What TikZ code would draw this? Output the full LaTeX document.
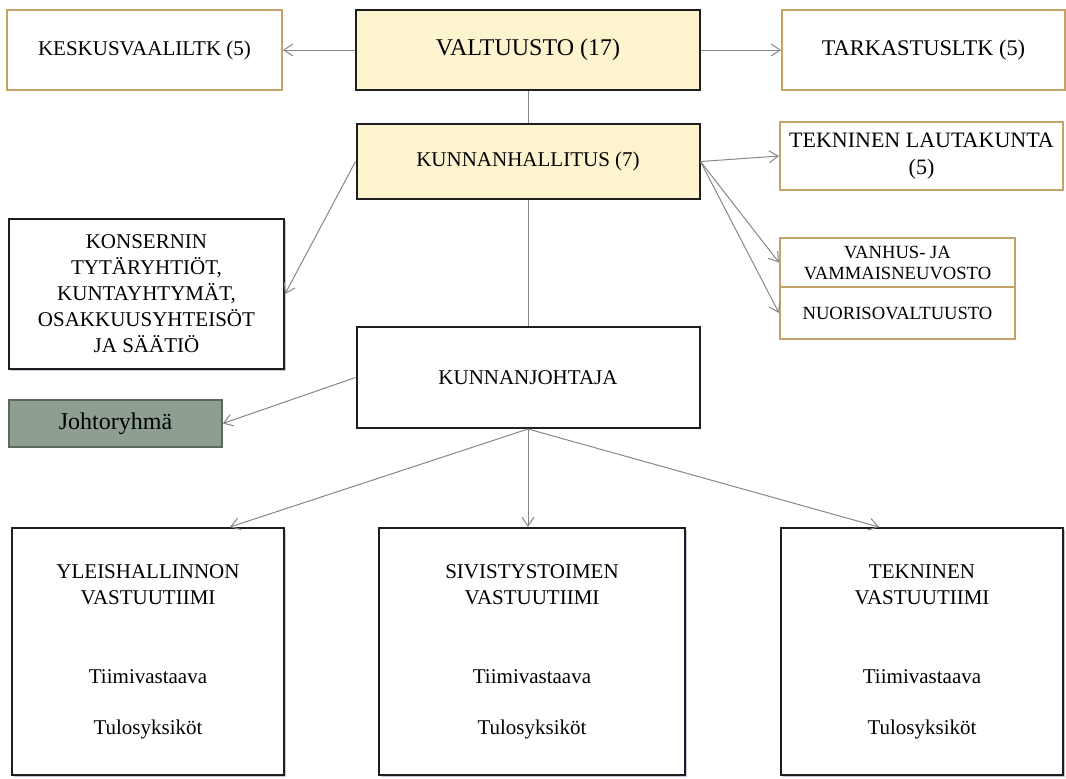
\documentclass[tikz,border=0pt]{standalone}
\usepackage{fontspec}
\setmainfont{Liberation Serif}
\usetikzlibrary{arrows.meta, positioning, shadows}

\definecolor{darkline}{RGB}{30,30,30}
\definecolor{tanline}{RGB}{196,162,104}
\definecolor{boardfill}{RGB}{253,243,206}
\definecolor{mgmtfill}{RGB}{142,158,144}
\definecolor{mgmtline}{RGB}{92,106,94}
\definecolor{linegray}{RGB}{135,135,135}
\definecolor{shadowblue}{RGB}{178,190,208}

\begin{document}
\begin{tikzpicture}[x=0.5pt, y=-0.5pt,
  font=\fontsize{10.5}{13}\selectfont,
  board/.style={rectangle, inner sep=0pt, text centered, align=center, draw=darkline, line width=1pt, fill=boardfill},
  committee/.style={rectangle, inner sep=0pt, text centered, align=center, draw=tanline, line width=1pt, fill=white},
  office/.style={rectangle, inner sep=0pt, text centered, align=center, draw=darkline, line width=1pt, fill=white},
  team/.style={office, minimum height=123.5pt, drop shadow={shadow xshift=1.2pt, shadow yshift=-1.2pt, fill=shadowblue, opacity=0.8}},
  mgmt/.style={rectangle, inner sep=0pt, text centered, draw=mgmtline, line width=0.8pt, fill=mgmtfill},
  arrow/.style={draw=linegray, line width=0.5pt, -{Straight Barb[length=4.5pt, width=6pt]}},
  link/.style={draw=linegray, line width=0.5pt}]

  \useasboundingbox (0,0) rectangle (1066,778);

  % Nodes
  \node (valtuusto) [board, minimum width=172pt, minimum height=40pt, font=\fontsize{12}{14}\selectfont] at (528,50) {VALTUUSTO (17)};
  \node (keskus) [committee, left=36pt of valtuusto, minimum width=137.5pt, minimum height=40pt] {KESKUSVAALILTK (5)};
  \node (tarkastus) [committee, right=40pt of valtuusto, minimum width=141.5pt, minimum height=40pt, font=\fontsize{11.2}{13.5}\selectfont] {TARKASTUSLTK (5)};

  \node (kunnanhallitus) [board, below=16pt of valtuusto, minimum width=171.5pt, minimum height=37.5pt] {KUNNANHALLITUS (7)};
  \node (teklk) [committee, minimum width=141.5pt, minimum height=34pt, font=\fontsize{11}{13.5}\selectfont] at (921.5,156) {TEKNINEN LAUTAKUNTA\\(5)};
  \node (vanhus) [committee, minimum width=117.5pt, minimum height=24.5pt, font=\fontsize{9.3}{10.5}\selectfont] at (897.5,262.5) {VANHUS- JA\\VAMMAISNEUVOSTO};
  \node (nuoriso) [committee, below=-1pt of vanhus, minimum width=117.5pt, minimum height=26pt, font=\fontsize{9.3}{10.5}\selectfont] {NUORISOVALTUUSTO};

  \node (konserni) [office, minimum width=137.5pt, minimum height=75pt, drop shadow={shadow xshift=1.2pt, shadow yshift=-1.2pt, fill=shadowblue, opacity=0.8}] at (146.5,294) {KONSERNIN\\TYTÄRYHTIÖT,\\KUNTAYHTYMÄT,\\OSAKKUUSYHTEISÖT\\JA SÄÄTIÖ};

  \node (kunnanjohtaja) [office, below=63pt of kunnanhallitus, minimum width=171.5pt, minimum height=50.5pt] {KUNNANJOHTAJA};
  \node (johtoryhma) [mgmt, minimum width=106.5pt, minimum height=23.5pt, font=\fontsize{12}{14}\selectfont] at (115.5,423.5) {Johtoryhmä};

  \node (yleis) [team, minimum width=136pt] at (148,651.5) {YLEISHALLINNON\\VASTUUTIIMI\\[26.5pt]Tiimivastaava\\[12.5pt]Tulosyksiköt};
  \node (sivistys) [team, minimum width=153pt] at (532,651.5) {SIVISTYSTOIMEN\\VASTUUTIIMI\\[26.5pt]Tiimivastaava\\[12.5pt]Tulosyksiköt};
  \node (tekvt) [team, minimum width=141pt] at (922,651.5) {TEKNINEN\\VASTUUTIIMI\\[26.5pt]Tiimivastaava\\[12.5pt]Tulosyksiköt};

  % Arrows
  \draw [arrow] (valtuusto) -- (keskus);
  \draw [arrow] (valtuusto) -- (tarkastus);
  \draw [link] (valtuusto) -- (kunnanhallitus);

  \draw [arrow] (kunnanhallitus.east) -- (teklk.west);
  \draw [arrow] (kunnanhallitus.east) -- (vanhus.west);
  \draw [arrow] (kunnanhallitus.east) -- (nuoriso.west);
  \draw [arrow] (kunnanhallitus.west) -- (konserni.east);
  \draw [link] (kunnanhallitus) -- (kunnanjohtaja);

  \draw [arrow] (kunnanjohtaja.west) -- (johtoryhma.east);
  \draw [arrow] (kunnanjohtaja.south) -- ([xshift=-27.5pt]yleis.north east);
  \draw [arrow] (kunnanjohtaja.south) -- (kunnanjohtaja.south |- sivistys.north);
  \draw [arrow] (kunnanjohtaja.south) -- ([xshift=49.5pt]tekvt.north west);
\end{tikzpicture}
\end{document}
